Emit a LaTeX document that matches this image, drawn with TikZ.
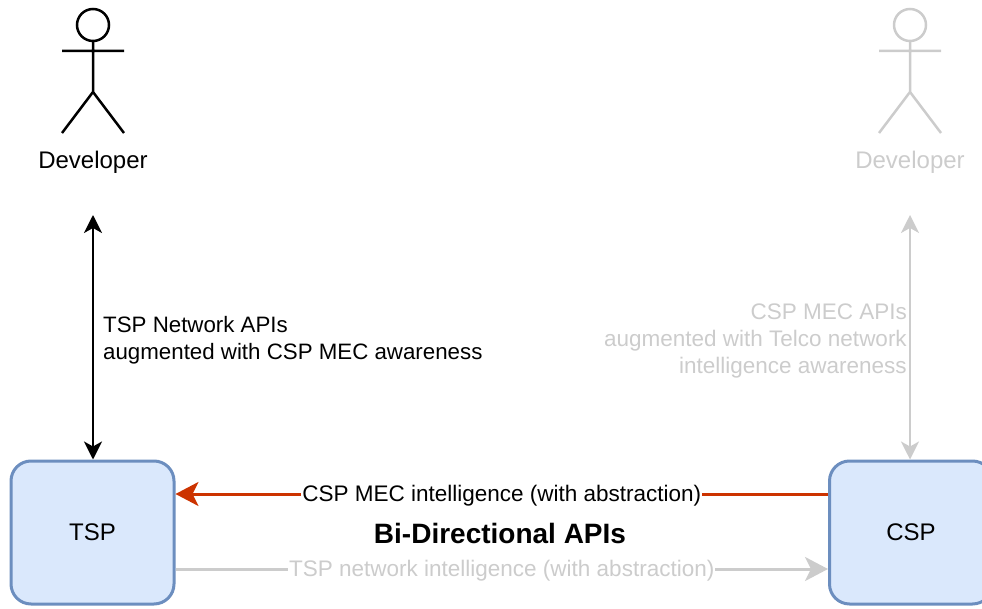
\documentclass[tikz,border=0pt]{standalone}
\usepackage{fontspec}
\setmainfont{Liberation Sans}
\usetikzlibrary{arrows.meta}
\definecolor{R}{RGB}{204, 51, 0}
\definecolor{Gr}{RGB}{204, 204, 204}
\definecolor{Fb}{RGB}{218, 232, 252}
\definecolor{Sb}{RGB}{108, 142, 191}

\tikzset{
  box/.style={draw=Sb, fill=Fb, line width=3pt, rounded corners=20pt,
    minimum width=163pt, minimum height=143pt, font=\fontsize{24}{28}\selectfont},
  txt/.style={inner sep=0pt, font=\fontsize{22.5}{27}\selectfont},
  lbl/.style={fill=white, text=black, inner sep=1pt, yshift=-1.5pt,
    font=\fontsize{22.5}{27}\selectfont},
  actor/.style={line width=2.5pt},
  apiTip/.tip={Stealth[length=18pt, width=18pt, inset=5pt]},
  flowTip/.tip={Stealth[length=23pt, width=24pt, inset=6pt]},
}

\begin{document}
\begin{tikzpicture}[x=1pt, y=-1pt]
  \useasboundingbox (0,0) rectangle (982,609);

  % the two developers
  \foreach \x/\c in {93/black, 910/Gr} {
    \draw[actor, draw=\c] (\x,25) circle (16);
    \draw[actor, draw=\c] (\x,41) -- (\x,92) (\x-31,51) -- (\x+31,51)
      (\x-31,133) -- (\x,92) -- (\x+31,133);
  }
  \node[txt, font=\fontsize{24}{28}\selectfont] (devL) at (93,162) {Developer};
  \node[txt, font=\fontsize{24}{28}\selectfont, text=Gr] (devR) at (910,162) {Developer};

  \node[box] (tsp) at (92.5,532.5) {TSP};
  \node[box] (csp) at (911,532.5) {CSP};

  \coordinate (apiL) at (93,215);
  \coordinate (apiR) at (910,215);

  \draw[black, line width=2pt, apiTip-apiTip] (apiL) -- (tsp.north -| apiL);
  \node[txt, anchor=west, align=left, font=\fontsize{22.3}{27}\selectfont] (lblL) at (103,340.5)
    {TSP Network APIs\\augmented with CSP MEC awareness};

  \draw[Gr, line width=2pt, apiTip-apiTip] (apiR) -- (csp.north -| apiR);
  \node[txt, anchor=east, align=right, text=Gr] (lblR) at (907,341)
    {CSP MEC APIs~\\augmented with Telco network\\intelligence awareness};

  % bi-directional
  \draw[R, line width=3pt, -flowTip]
    ([yshift=38.5pt]csp.west) -- node[lbl] (mecL) {CSP MEC intelligence (with abstraction)}
    ([yshift=38.5pt]tsp.east);
  \draw[Gr, line width=3pt, -flowTip]
    ([yshift=-36.5pt]tsp.east) -- node[lbl, text=Gr] (netL) {TSP network intelligence (with abstraction)}
    ([yshift=-36.5pt]csp.west);
  \node[font=\bfseries\fontsize{28}{32}\selectfont] (bidi) at (500,533) {Bi-Directional APIs};
\end{tikzpicture}
\end{document}
